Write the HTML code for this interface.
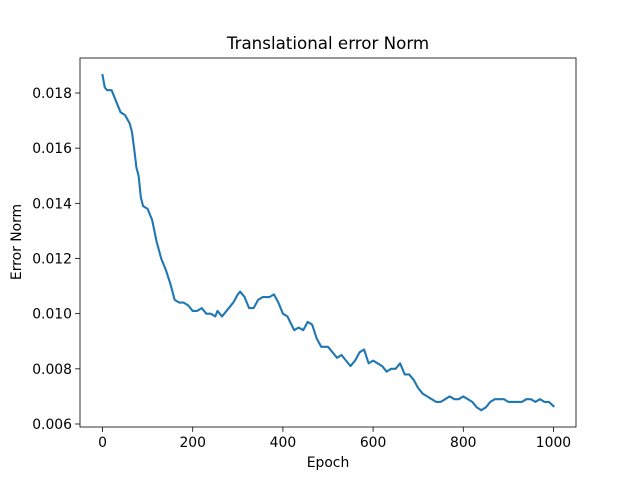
<!DOCTYPE html>
<html><head><meta charset="utf-8"><style>
body{margin:0;background:#fff;font-family:"Liberation Sans","DejaVu Sans",sans-serif}
svg text{font-family:"DejaVu Sans","Liberation Sans",sans-serif;fill:#000}
</style></head><body>
<svg id="c" width="640" height="480"></svg>
<script>
const epochs=[0,5,10,20,30,40,50,60,65,70,75,80,85,90,100,110,120,130,140,150,160,170,180,190,200,210,220,230,240,250,255,265,275,290,300,305,315,325,335,345,355,370,380,390,400,410,425,435,445,455,465,475,485,500,510,520,530,540,550,560,570,580,590,600,610,620,630,640,650,660,670,680,690,700,710,720,730,740,750,760,770,780,790,800,810,820,830,840,850,860,870,880,890,900,910,920,930,940,950,960,970,980,990,1000];
const errors=[.01865,.0182,.0181,.0181,.0177,.0173,.0172,.0169,.0166,.0160,.0153,.0150,.0142,.0139,.0138,.0134,.0126,.0120,.0116,.0111,.0105,.0104,.0104,.0103,.0101,.0101,.0102,.0100,.0100,.0099,.0101,.0099,.0101,.0104,.0107,.0108,.0106,.0102,.0102,.0105,.0106,.0106,.0107,.0104,.0100,.0099,.0094,.0095,.0094,.0097,.0096,.0091,.0088,.0088,.0086,.0084,.0085,.0083,.0081,.0083,.0086,.0087,.0082,.0083,.0082,.0081,.0079,.0080,.0080,.0082,.0078,.0078,.0076,.0073,.0071,.0070,.0069,.0068,.0068,.0069,.0070,.0069,.0069,.0070,.0069,.0068,.0066,.0065,.0066,.0068,.0069,.0069,.0069,.0068,.0068,.0068,.0068,.0069,.0069,.0068,.0069,.0068,.0068,.00665];
const xTicks=[0,200,400,600,800,1000];
const yTicks=[0.006,0.008,0.010,0.012,0.014,0.016,0.018];
const L=80,R=576,T=58,B=427;
const X=v=>L+(v+50)/1100*(R-L);
const Y=v=>424-(v-0.006)/0.012*331;
const s=document.getElementById('c'),NS='http://www.w3.org/2000/svg';
function el(t,a,txt){const e=document.createElementNS(NS,t);for(const k in a)e.setAttribute(k,a[k]);if(txt!=null)e.textContent=txt;s.appendChild(e);return e;}
let t=el('text',{x:328,y:49,'font-size':16.7,'text-anchor':'middle'},'Translational error Norm');


xTicks.forEach(v=>{const x=X(v);
 let l=el('line',{x1:x,x2:x,y1:B,y2:B+4.9,stroke:'#000','stroke-width':0.8});
 
 
 let tt=el('text',{x:x,y:B+20,'font-size':13.9,'text-anchor':'middle'},String(v));
 
 });
yTicks.forEach(v=>{const y=Y(v);
 let l=el('line',{x1:L-4.9,x2:L,y1:y,y2:y,stroke:'#000','stroke-width':0.8});
 
 
 let tt=el('text',{x:L-8,y:y+5,'font-size':13.9,'text-anchor':'end'},v.toFixed(3));
 
 });
let xl=el('text',{x:328,y:467,'font-size':13.9,'text-anchor':'middle'},'Epoch');


let yl=el('text',{x:21,y:242,'font-size':13.9,'text-anchor':'middle',transform:'rotate(-90 21 242)'},'Error Norm');


let p=el('polyline',{points:epochs.map((e,i)=>X(e).toFixed(1)+','+Y(errors[i]).toFixed(1)).join(' '),fill:'none',stroke:'#1f77b4','stroke-width':2.1,'stroke-linejoin':'round','stroke-linecap':'square'});


let f=el('rect',{x:L,y:T,width:R-L,height:B-T,fill:'none',stroke:'#000','stroke-width':0.8});


</script>
</body></html>
